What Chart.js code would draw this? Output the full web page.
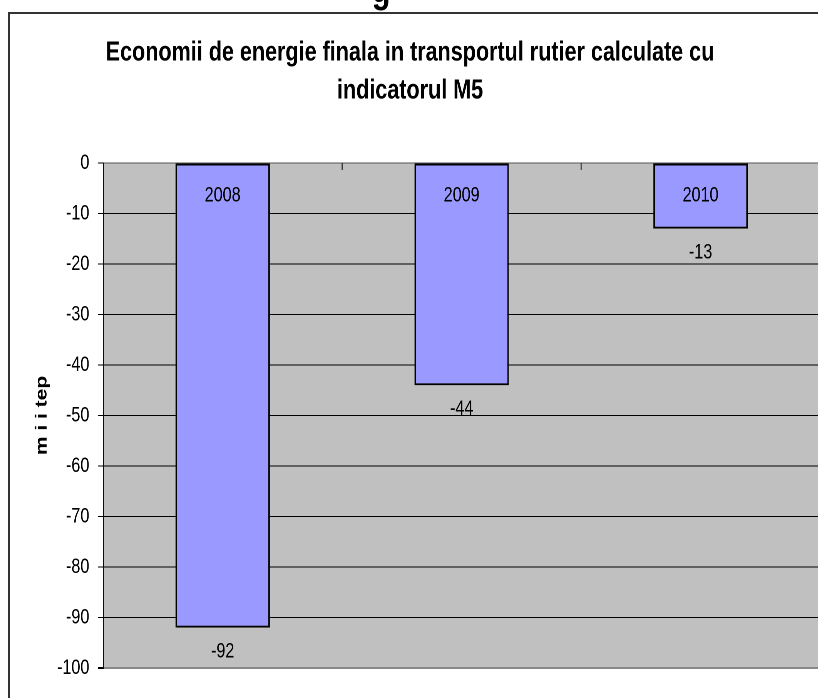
<!DOCTYPE html>
<html><head><meta charset="utf-8">
<script src="https://cdn.jsdelivr.net/npm/chart.js@4.4.1/dist/chart.umd.min.js"></script>
<style>
html,body{margin:0;padding:0;overflow:hidden;background:#fff;width:818px;height:698px}
#wrap{position:absolute;left:0;top:0;width:1091px;height:710px;transform:scaleX(0.77);transform-origin:0 0}
</style></head>
<body><div id="wrap"><canvas id="c" width="1091" height="710"></canvas></div>
<script>
const categories = ['2008', '2009', '2010'];
const values = [-92, -44, -13];
const valueLabels = ['-92', '-44', '-13'];
const yTickLabels = ['0', '-10', '-20', '-30', '-40', '-50', '-60', '-70', '-80', '-90', '-100'];
const titleLines = ['Economii de energie finala in transportul rutier calculate cu', 'indicatorul M5'];
const yAxisTitle = 'm i i tep';
const headingFragment = 'g';

const FONT = '"Liberation Sans", Arial, sans-serif';

const framePlugin = {
  id: 'frame',
  beforeDraw(chart) {
    const ctx = chart.ctx, a = chart.chartArea;
    ctx.save();
    ctx.fillStyle = '#fff';
    ctx.fillRect(0, 0, chart.width, chart.height);
    ctx.fillStyle = '#000';
    ctx.font = 'bold 40px ' + FONT;
    ctx.textAlign = 'center';
    ctx.textBaseline = 'alphabetic';
    ctx.fillText(headingFragment, 495, 2);
    ctx.strokeStyle = '#333';
    ctx.lineWidth = 2;
    ctx.beginPath();
    ctx.moveTo(11.7, 13);
    ctx.lineTo(chart.width, 13);
    ctx.stroke();
    ctx.lineWidth = 2.6;
    ctx.beginPath();
    ctx.moveTo(11.7, 12);
    ctx.lineTo(11.7, chart.height);
    ctx.stroke();
    ctx.fillStyle = '#C0C0C0';
    ctx.fillRect(a.left, a.top, a.right - a.left, a.bottom - a.top);
    ctx.restore();
  }
};

const labelPlugin = {
  id: 'barLabels',
  afterDatasetsDraw(chart) {
    const ctx = chart.ctx;
    const meta = chart.getDatasetMeta(0);
    ctx.save();
    ctx.fillStyle = '#000';
    ctx.font = '21px ' + FONT;
    ctx.textAlign = 'center';
    ctx.textBaseline = 'middle';
    meta.data.forEach((bar, i) => {
      const top = Math.min(bar.y, bar.base);
      const bottom = Math.max(bar.y, bar.base);
      ctx.fillText(categories[i], bar.x, top + 32);
      ctx.fillText(valueLabels[i], bar.x, bottom + 24);
    });
    ctx.restore();
  },
  afterDraw(chart) {
    const ctx = chart.ctx, a = chart.chartArea, xs = chart.scales.x;
    ctx.save();
    ctx.strokeStyle = '#333';
    ctx.lineWidth = 1.4;
    for (let i = 0; i < categories.length - 1; i++) {
      const x = (xs.getPixelForValue(i) + xs.getPixelForValue(i + 1)) / 2;
      ctx.beginPath();
      ctx.moveTo(x, a.top);
      ctx.lineTo(x, a.top + 7);
      ctx.stroke();
    }
    ctx.restore();
  }
};

new Chart(document.getElementById('c'), {
  type: 'bar',
  data: {
    labels: categories,
    datasets: [{
      data: values,
      backgroundColor: '#9999FF',
      borderColor: '#000',
      borderWidth: 2,
      borderSkipped: false,
      categoryPercentage: 1,
      barPercentage: 0.395
    }]
  },
  options: {
    responsive: false,
    animation: false,
    devicePixelRatio: 2,
    layout: { padding: { left: 0, top: 0, right: 26, bottom: 42 } },
    plugins: {
      legend: { display: false },
      tooltip: { enabled: false },
      title: {
        display: true,
        text: titleLines,
        color: '#000',
        font: { family: FONT, size: 28, weight: 'bold', lineHeight: 38 / 28 },
        padding: { top: 34, bottom: 53 }
      }
    },
    scales: {
      x: { display: false, offset: true },
      y: {
        min: -100, max: 0,
        afterFit(s) { s.width = 134; },
        ticks: {
          stepSize: 10,
          color: '#000',
          padding: 11,
          font: { family: FONT, size: 21 },
          callback: (v, i) => yTickLabels[Math.round(-v / 10)]
        },
        grid: {
          color: c => c.tick && c.tick.value === 0 ? '#555' : (c.tick && c.tick.value === -100 ? '#888' : '#000'),
          lineWidth: c => c.tick && c.tick.value === -100 ? 2 : 1,
          tickColor: '#000',
          tickLength: 7
        },
        border: { display: true, color: '#000', width: 1.4 },
        title: {
          display: true,
          text: yAxisTitle,
          color: '#000',
          font: { family: FONT, size: 21, weight: 'bold' },
          padding: { top: 42, bottom: 0 }
        }
      }
    }
  },
  plugins: [framePlugin, labelPlugin]
});
</script>
</body></html>
